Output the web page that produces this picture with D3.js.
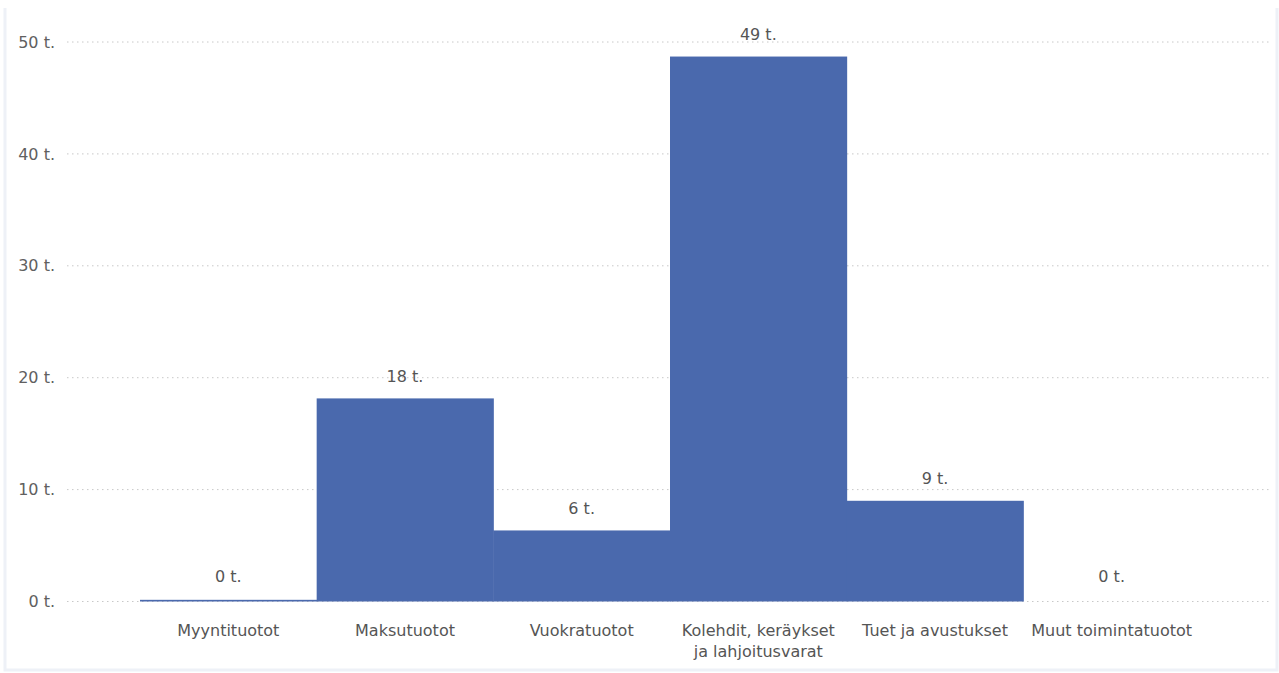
<!DOCTYPE html>
<html>
<head>
<meta charset="utf-8">
<script src="https://cdn.jsdelivr.net/npm/d3@7"></script>
<style>
  body { margin: 0; background: #fff; }
  svg text { font-family: "DejaVu Sans", Verdana, sans-serif; }
</style>
</head>
<body>
<svg id="chart" width="1279" height="673"></svg>
<script>
// tuotot (tuhatta euroa)
var categories = ["Myyntituotot", "Maksutuotot", "Vuokratuotot", "Kolehdit, keräykset ja lahjoitusvarat", "Tuet ja avustukset", "Muut toimintatuotot"];
var categoryLines = [["Myyntituotot"], ["Maksutuotot"], ["Vuokratuotot"], ["Kolehdit, keräykset", "ja lahjoitusvarat"], ["Tuet ja avustukset"], ["Muut toimintatuotot"]];
var values = [0.15, 18.15, 6.35, 48.7, 9.0, 0];
var yTicks = [0, 10, 20, 30, 40, 50];

var svg = d3.select("#chart");

// kehys
var frame = svg.append("g").attr("stroke", "#eef1f7").attr("stroke-width", 3).attr("fill", "none");
frame.append("path").attr("d", "M5,8 V670 H1277 V8");

var x = d3.scaleBand()
    .domain(categories)
    .range([140, 1200])
    .padding(0);

var y = d3.scaleLinear()
    .domain([0, 50])
    .range([601.5, 42]);

// ruudukko
svg.append("g").selectAll("line")
    .data(yTicks)
  .enter().append("line")
    .attr("x1", 67)
    .attr("x2", 1270)
    .attr("y1", function(d) { return y(d); })
    .attr("y2", function(d) { return y(d); })
    .attr("stroke", "#c8c8c8")
    .attr("stroke-width", 1)
    .attr("stroke-dasharray", "1.5,3.5");

// y-akseli
var yAxis = d3.axisLeft(y)
    .tickValues(yTicks)
    .tickSize(0)
    .tickPadding(0)
    .tickFormat(function(d) { return d + " t."; });

var ya = svg.append("g")
    .attr("transform", "translate(55,0)")
    .call(yAxis);
ya.select(".domain").remove();
ya.selectAll("text")
    .attr("fill", "#606060")
    .style("font-size", "16px");

// pylväät
svg.append("g").selectAll("rect")
    .data(values)
  .enter().append("rect")
    .attr("x", function(d, i) { return x(categories[i]); })
    .attr("width", x.bandwidth() + 0.5)
    .attr("y", function(d) { return y(d); })
    .attr("height", function(d) { return y(0) - y(d); })
    .attr("fill", "#4a69ad");

// arvot
svg.append("g").selectAll("text")
    .data(values)
  .enter().append("text")
    .attr("x", function(d, i) { return x(categories[i]) + x.bandwidth() / 2; })
    .attr("y", function(d) { return Math.min(y(d), y(0.3)) - 16.5; })
    .attr("text-anchor", "middle")
    .attr("fill", "#555")
    .style("font-size", "16px")
    .text(function(d) { return Math.round(d) + " t."; });

// x-akselin nimet
var xa = svg.append("g").selectAll("text")
    .data(categoryLines)
  .enter().append("text")
    .attr("x", function(d, i) { return x(categories[i]) + x.bandwidth() / 2; })
    .attr("y", 636)
    .attr("text-anchor", "middle")
    .attr("fill", "#555")
    .style("font-size", "16px");

xa.selectAll("tspan")
    .data(function(d) { return d; })
  .enter().append("tspan")
    .attr("x", function() { return d3.select(this.parentNode).attr("x"); })
    .attr("dy", function(d, i) { return i == 0 ? 0 : 21; })
    .text(function(d) { return d; });
</script>
</body>
</html>
